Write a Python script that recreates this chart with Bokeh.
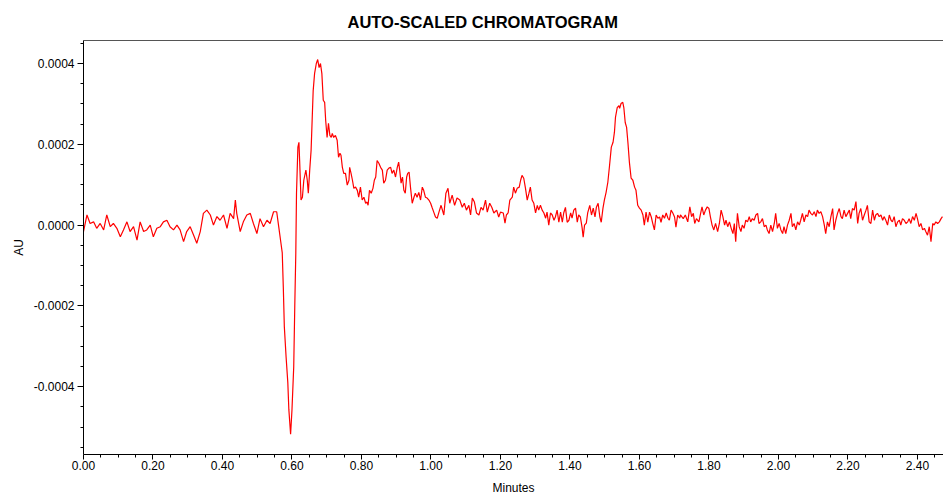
from bokeh.plotting import figure
from bokeh.models import Range1d, FixedTicker, PrintfTickFormatter, LinearAxis
from bokeh.embed import file_html
from bokeh.resources import INLINE

# ---- data (time in minutes, signal in units of 1e-5 AU) ----
time_baseline = [0.000, 0.010, 0.019, 0.029, 0.038, 0.048, 0.058, 0.067, 0.077, 0.086,
                 0.096, 0.106, 0.115, 0.125, 0.134, 0.144, 0.154, 0.163, 0.173, 0.182,
                 0.192, 0.201, 0.211, 0.221, 0.230, 0.240, 0.249, 0.259, 0.269, 0.278,
                 0.288, 0.297, 0.307, 0.317, 0.326, 0.336, 0.345, 0.355, 0.365, 0.374,
                 0.384, 0.393, 0.403, 0.413, 0.422, 0.432, 0.437, 0.441, 0.451, 0.460,
                 0.470, 0.480, 0.489, 0.499, 0.508, 0.518, 0.528, 0.537, 0.547, 0.556]
sig_baseline = [-1.6, 2.5, 0.4, 0.8, -0.8, 0.4, -1.2, 2.5, -0.4, 0.4,
                -0.8, -2.9, -1.2, 0.8, -1.6, -0.4, -3.7, 0.8, -1.6, -1.2,
                0.0, -2.9, -0.8, -0.4, 0.8, 1.2, -0.4, -1.2, 0.0, -1.2,
                -4.1, -1.6, -0.4, -2.5, -4.5, -1.6, 2.9, 3.7, 2.5, 0.0,
                2.1, 1.2, 2.5, -0.8, 2.9, 1.6, 6.2, 2.9, -1.6, 0.8,
                2.5, 2.9, 0.4, -2.1, 1.6, -0.4, 1.2, 0.4, 3.3, 3.3]

time_front = [0.562, 0.567, 0.572, 0.575, 0.578, 0.583, 0.588, 0.591, 0.596, 0.600,
              0.605, 0.608, 0.611, 0.613, 0.617, 0.620, 0.622, 0.626, 0.630, 0.634,
              0.640, 0.644, 0.647, 0.651, 0.655, 0.658, 0.661, 0.665, 0.670, 0.674,
              0.678, 0.682, 0.686, 0.690, 0.694, 0.697, 0.701, 0.705, 0.709, 0.713,
              0.716, 0.720, 0.725, 0.730, 0.734, 0.738, 0.741, 0.745, 0.749, 0.754,
              0.759, 0.764, 0.766, 0.770, 0.774, 0.778, 0.783, 0.788, 0.792, 0.797,
              0.802, 0.807, 0.812, 0.816, 0.819, 0.823, 0.828, 0.833, 0.837, 0.841,
              0.845, 0.850, 0.855, 0.860, 0.864, 0.869, 0.874, 0.879, 0.884, 0.888,
              0.893, 0.898, 0.903, 0.907, 0.910, 0.914, 0.918, 0.922, 0.926, 0.930,
              0.933, 0.937, 0.941, 0.946, 0.951, 0.955, 0.960, 0.965, 0.970, 0.975,
              0.979, 0.984, 0.989, 0.994, 0.999, 1.003, 1.008, 1.013, 1.018, 1.023]
sig_front = [-0.5, -3.7, -6.9, -15.3, -25.2, -32.6, -39.0, -45.7, -51.8, -45.7,
             -35.1, -20.2, -6.9, 7.9, 19.3, 20.5, 16.0, 6.2, 6.9, 11.1,
             13.6, 11.1, 7.9, 13.6, 18.5, 25.9, 33.3, 37.5, 40.0, 41.0,
             39.0, 40.0, 37.5, 30.9, 30.4, 25.9, 21.7, 25.2, 22.2, 21.7,
             22.7, 21.7, 22.2, 21.0, 16.8, 17.8, 17.3, 14.3, 12.8, 12.8,
             9.9, 11.1, 14.3, 12.8, 11.1, 9.1, 9.4, 8.6, 6.9, 9.4,
             6.2, 6.9, 5.4, 5.7, 4.9, 8.6, 7.9, 9.1, 11.1, 11.9,
             16.0, 15.3, 14.3, 13.6, 10.4, 11.1, 13.6, 14.1, 14.3, 12.8,
             13.6, 11.9, 14.3, 15.6, 13.6, 10.4, 11.9, 8.6, 7.9, 11.9,
             12.8, 13.1, 9.4, 5.4, 6.9, 7.9, 6.9, 8.1, 6.2, 9.4,
             8.6, 6.9, 6.7, 6.2, 5.4, 4.4, 3.2, 2.0, 1.7, 3.2]

time_middle = [1.029, 1.037, 1.043, 1.049, 1.054, 1.061, 1.068, 1.075, 1.083, 1.090,
               1.096, 1.102, 1.109, 1.114, 1.119, 1.125, 1.131, 1.138, 1.144, 1.150,
               1.157, 1.162, 1.169, 1.175, 1.181, 1.189, 1.195, 1.200, 1.208, 1.213,
               1.217, 1.222, 1.227, 1.234, 1.238, 1.243, 1.248, 1.254, 1.258, 1.262,
               1.267, 1.272, 1.277, 1.282, 1.286, 1.291, 1.296, 1.301, 1.306, 1.310,
               1.315, 1.320, 1.325, 1.330, 1.334, 1.339, 1.344, 1.349, 1.354, 1.358,
               1.363, 1.368, 1.373, 1.378, 1.382, 1.387, 1.392, 1.397, 1.402, 1.406,
               1.411, 1.416, 1.421, 1.425, 1.430, 1.435, 1.438, 1.442, 1.447, 1.451,
               1.457, 1.462, 1.467, 1.472, 1.476, 1.481, 1.486, 1.490, 1.495, 1.499,
               1.504, 1.509, 1.514, 1.519, 1.524, 1.528, 1.531, 1.536, 1.541, 1.543,
               1.547, 1.552, 1.555, 1.559, 1.563, 1.567, 1.571, 1.576, 1.581, 1.586,
               1.590, 1.595, 1.600, 1.605, 1.610, 1.614, 1.619, 1.624, 1.629, 1.634,
               1.638, 1.643, 1.648, 1.653, 1.658, 1.662, 1.667, 1.672, 1.677, 1.682,
               1.686, 1.691, 1.696, 1.701, 1.705, 1.710, 1.716]
sig_middle = [4.9, 2.5, 7.9, 9.1, 5.4, 7.4, 4.9, 6.7, 6.2, 4.4,
              5.4, 3.7, 4.9, 2.5, 6.7, 5.7, 3.0, 2.5, 4.4, 3.7,
              6.2, 3.2, 5.4, 4.4, 3.0, 3.7, 2.0, 3.2, 3.0, 0.5,
              2.5, 3.0, 6.2, 6.9, 9.4, 7.9, 9.1, 9.4, 11.1, 12.3,
              11.6, 9.1, 6.2, 7.9, 9.4, 6.2, 5.4, 3.0, 4.9, 3.7,
              4.9, 3.7, 3.0, 1.7, 3.2, 0.0, 3.0, 2.5, 1.2, 2.0,
              3.7, 0.7, 3.2, 0.7, 3.0, 4.4, 0.7, 1.2, 3.0, 1.7,
              3.7, 4.2, 0.7, 2.5, 2.0, -0.7, -3.0, 0.0, 0.5, 3.0,
              4.9, 2.5, 4.2, 2.0, 4.4, 5.4, 2.0, 0.7, 4.2, 6.2,
              8.1, 10.6, 14.8, 19.3, 20.5, 23.0, 26.7, 29.1, 29.6, 28.9,
              30.1, 30.4, 29.1, 25.4, 24.2, 20.2, 15.6, 11.6, 11.1, 9.4,
              8.6, 4.9, 4.2, 3.7, 2.5, 0.0, 3.2, 0.7, 3.2, 2.0,
              0.5, -1.2, 2.5, 1.7, 2.0, 0.7, 2.5, 1.7, 3.0, 1.7,
              1.2, 3.7, 3.0, 2.0, -0.5, 2.5, 1.7]

time_tail = [1.718, 1.726, 1.732, 1.739, 1.745, 1.750, 1.755, 1.759, 1.764, 1.771,
             1.776, 1.780, 1.785, 1.790, 1.795, 1.800, 1.804, 1.809, 1.814, 1.819,
             1.825, 1.830, 1.835, 1.840, 1.845, 1.849, 1.854, 1.859, 1.864, 1.869,
             1.873, 1.877, 1.882, 1.887,
             1.892, 1.896, 1.901, 1.906, 1.911, 1.916, 1.920, 1.925, 1.930, 1.935,
             1.940, 1.944, 1.949, 1.954, 1.959, 1.964, 1.968, 1.973, 1.978, 1.983,
             1.988, 1.992, 1.997, 2.002, 2.007, 2.012, 2.016, 2.021, 2.026, 2.031,
             2.036, 2.040, 2.045, 2.050, 2.055, 2.060, 2.064, 2.069, 2.074, 2.079,
             2.084, 2.088, 2.093, 2.098, 2.103, 2.108, 2.112, 2.117, 2.122, 2.127,
             2.132, 2.136, 2.141, 2.146, 2.151, 2.156, 2.160, 2.165, 2.170, 2.175,
             2.180, 2.184, 2.189, 2.194, 2.199, 2.204, 2.208, 2.213, 2.218, 2.223,
             2.228, 2.232, 2.237, 2.242, 2.247, 2.252, 2.256, 2.261, 2.266, 2.271,
             2.276, 2.280, 2.285, 2.290, 2.295, 2.300, 2.304, 2.309, 2.314, 2.319,
             2.324, 2.328, 2.333, 2.338, 2.343, 2.348, 2.352, 2.357, 2.362, 2.367,
             2.372, 2.376, 2.381, 2.386, 2.391, 2.396, 2.400, 2.405, 2.410, 2.415,
             2.420, 2.424, 2.429, 2.434, 2.439, 2.444, 2.448, 2.453, 2.458, 2.463,
             2.468, 2.472]
sig_tail = [2.5, 1.6, 2.5, 0.8, 4.5, 2.1, 2.9, 0.4, 1.6, 0.8,
            2.9, 4.5, 2.5, 3.7, 4.5, 4.1, 2.1, 0.0, -1.2, 0.4,
            -1.6, 0.4, 3.7, 2.1, 0.0, 1.2, -0.4, 0.8, -0.8, -2.1,
            0.4, -4.1, 2.9, -0.4,
            -1.6, 0.0, -0.8, 1.2, 0.8, 2.1, 0.8, 1.6, 1.2, 2.5,
            2.9, 0.4, 0.8, 1.6, -0.4, 0.0, -1.2, -2.1, 0.0, -1.6,
            0.4, 2.9, -0.8, 0.4, -1.2, -2.1, -0.4, -2.1, 0.0, 1.2,
            2.9, -0.4, 0.4, -1.2, 0.8, 0.0, 1.2, 2.9, 0.8, 2.5,
            2.1, 3.7, 2.9, 2.5, 3.3, 2.1, 3.7, 2.9, 3.3, 2.1,
            0.0, -2.1, 0.8, -0.4, 2.1, 4.1, -1.2, 1.2, 2.9, 4.1,
            2.1, 1.6, 3.7, 2.1, 2.9, 3.7, 1.6, 4.1, 3.7, 5.8,
            0.4, 2.9, 4.1, 1.2, 2.5, 3.7, 4.9, 0.8, 0.4, 3.7,
            1.2, 2.5, 2.9, 2.1, 2.5, 1.2, 2.1, 1.2, 0.0, 2.5,
            1.2, 0.8, 2.1, -0.4, 0.8, 1.2, 0.0, 1.6, 1.2, 0.4,
            0.8, 1.6, 0.4, 2.1, 1.2, 2.9, 1.6, -0.4, 0.4, -1.2,
            -0.8, -1.6, -2.5, -0.4, -4.1, 0.4, 0.0, 0.8, 0.4, 0.8,
            1.6, 2.1]

SIGNAL_UNIT = 1e-5  # signal lists are in units of 1e-5 AU

x_major_ticks = [0.0, 0.2, 0.4, 0.6, 0.8, 1.0, 1.2, 1.4, 1.6, 1.8, 2.0, 2.2, 2.4]
x_minor_ticks = [0.05, 0.10, 0.15, 0.25, 0.30, 0.35, 0.45, 0.50, 0.55, 0.65, 0.70, 0.75,
                 0.85, 0.90, 0.95, 1.05, 1.10, 1.15, 1.25, 1.30, 1.35, 1.45, 1.50, 1.55,
                 1.65, 1.70, 1.75, 1.85, 1.90, 1.95, 2.05, 2.10, 2.15, 2.25, 2.30, 2.35,
                 2.45]
y_major_ticks = [-0.0004, -0.0002, 0.0, 0.0002, 0.0004]
y_minor_ticks = [-0.00055, -0.0005, -0.00045, -0.00035, -0.0003, -0.00025,
                 -0.00015, -0.0001, -0.00005, 0.00005, 0.0001, 0.00015,
                 0.00025, 0.0003, 0.00035, 0.00045]

times = time_baseline + time_front + time_middle + time_tail
signal = [v * SIGNAL_UNIT for v in (sig_baseline + sig_front + sig_middle + sig_tail)]

FONT = "Liberation Sans"

p = figure(width=943, height=497, output_backend="svg", toolbar_location=None,
           x_range=Range1d(0, 2.475), y_range=Range1d(-0.000568, 0.000457),
           min_border_left=83, min_border_right=0, min_border_top=40, min_border_bottom=42,
           background_fill_color="white", border_fill_color="white",
           x_axis_location=None, y_axis_location=None)
p.outline_line_color = None
p.grid.visible = False

p.title.text = "AUTO-SCALED CHROMATOGRAM"
p.title.text_font = FONT
p.title.text_font_size = "16.5px"
p.title.text_font_style = "bold"
p.title.text_color = "black"
p.title.align = "left"
p.title.offset = 264
p.title.standoff = 20

def style_axis(ax, label_size="12px"):
    ax.axis_line_color = "black"
    ax.axis_line_width = 1
    ax.major_tick_line_color = "black"
    ax.minor_tick_line_color = "black"
    ax.major_tick_in = 0
    ax.minor_tick_in = 0
    ax.major_label_text_font = FONT
    ax.major_label_text_font_size = label_size
    ax.major_label_text_color = "black"
    ax.axis_label_text_font = FONT
    ax.axis_label_text_font_size = "12px"
    ax.axis_label_text_font_style = "normal"
    ax.axis_label_text_color = "black"

xaxis = LinearAxis(ticker=FixedTicker(ticks=x_major_ticks, minor_ticks=x_minor_ticks),
                   formatter=PrintfTickFormatter(format="%.2f"), axis_label="Minutes")
style_axis(xaxis)
xaxis.major_tick_out = 5
xaxis.minor_tick_out = 3
xaxis.major_label_standoff = 1
xaxis.axis_label_standoff = 8
p.add_layout(xaxis, "below")

yaxis = LinearAxis(ticker=FixedTicker(ticks=y_major_ticks, minor_ticks=y_minor_ticks),
                   formatter=PrintfTickFormatter(format="%.4f"), axis_label="AU")
style_axis(yaxis)
yaxis.major_tick_out = 6
yaxis.minor_tick_out = 3
yaxis.major_label_standoff = 3
yaxis.axis_label_standoff = 5
p.add_layout(yaxis, "left")

topaxis = LinearAxis(ticker=FixedTicker(ticks=[]), axis_line_color="#555555",
                     major_tick_line_color=None, minor_tick_line_color=None,
                     major_label_text_font_size="0px", major_label_standoff=0)
p.add_layout(topaxis, "above")

p.line(times, signal, line_color="#ff0000", line_width=1.2)

open("out.html", "w").write(file_html(p, INLINE))
